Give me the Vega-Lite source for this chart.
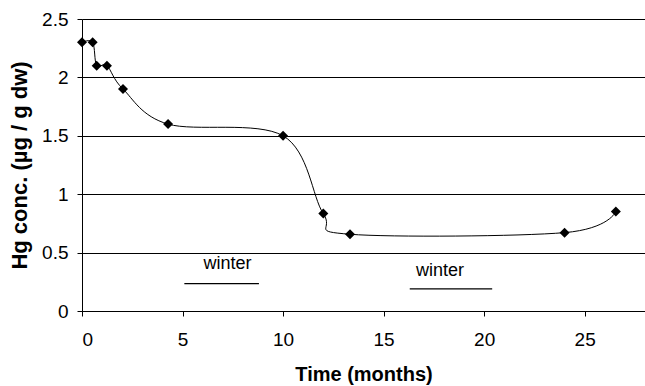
{
  "$schema": "https://vega.github.io/schema/vega-lite/v6.json",
  "width": 563,
  "height": 292,
  "autosize": {"type": "none"},
  "padding": {"left": 82, "top": 19, "right": 0, "bottom": 75},
  "background": "white",
  "config": {
    "view": {"stroke": null},
    "font": "Liberation Sans"
  },
  "datasets": {
    "hg": [
      {"time": 0, "hg": 2.3},
      {"time": 0.53, "hg": 2.3},
      {"time": 0.73, "hg": 2.1},
      {"time": 1.24, "hg": 2.1},
      {"time": 2.04, "hg": 1.9},
      {"time": 4.28, "hg": 1.6},
      {"time": 10.0, "hg": 1.5},
      {"time": 12.0, "hg": 0.834},
      {"time": 13.33, "hg": 0.657},
      {"time": 24.0, "hg": 0.671},
      {"time": 26.55, "hg": 0.851}
    ],
    "winter": [
      {"start": 5.09, "end": 8.8, "y": 0.235, "label": "winter", "lx": 7.24, "ly": 0.4},
      {"start": 16.3, "end": 20.4, "y": 0.19, "label": "winter", "lx": 17.8, "ly": 0.34}
    ]
  },
  "layer": [
    {
      "data": {"name": "hg"},
      "mark": {"type": "line", "interpolate": "cardinal", "color": "black", "strokeWidth": 1},
      "encoding": {
        "x": {
          "field": "time", "type": "quantitative",
          "scale": {"domain": [0, 28], "nice": false, "zero": false},
          "axis": {
            "title": "Time (months)", "values": [0, 5, 10, 15, 20, 25], "format": "~g",
            "grid": false, "domainColor": "black", "tickColor": "black", "tickSize": 5,
            "labelFontSize": 19, "labelColor": "black", "labelPadding": 14,
            "titleFontSize": 20, "titleFontWeight": "bold", "titleColor": "black", "titlePadding": 15
          }
        },
        "y": {
          "field": "hg", "type": "quantitative",
          "scale": {"domain": [0, 2.5], "nice": false},
          "axis": {
            "title": "Hg conc. (µg / g dw)", "values": [0, 0.5, 1, 1.5, 2, 2.5], "format": "~g",
            "grid": true, "gridColor": "black", "gridOpacity": 1, "gridWidth": 1,
            "domainColor": "black", "tickColor": "black", "tickSize": 5,
            "labelFontSize": 19, "labelColor": "black", "labelPadding": 9,
            "titleFontSize": 22, "titleFontWeight": "bold", "titleColor": "black", "titlePadding": 10
          }
        }
      }
    },
    {
      "data": {"name": "hg"},
      "mark": {"type": "point", "shape": "diamond", "filled": true, "color": "black", "size": 100, "opacity": 1},
      "encoding": {
        "x": {"field": "time", "type": "quantitative"},
        "y": {"field": "hg", "type": "quantitative"}
      }
    },
    {
      "data": {"name": "winter"},
      "mark": {"type": "rule", "color": "black", "strokeWidth": 1.2},
      "encoding": {
        "x": {"field": "start", "type": "quantitative"},
        "x2": {"field": "end"},
        "y": {"field": "y", "type": "quantitative"}
      }
    },
    {
      "data": {"name": "winter"},
      "mark": {"type": "text", "fontSize": 18, "color": "black", "align": "center", "baseline": "middle"},
      "encoding": {
        "x": {"field": "lx", "type": "quantitative"},
        "y": {"field": "ly", "type": "quantitative"},
        "text": {"field": "label"}
      }
    }
  ]
}
